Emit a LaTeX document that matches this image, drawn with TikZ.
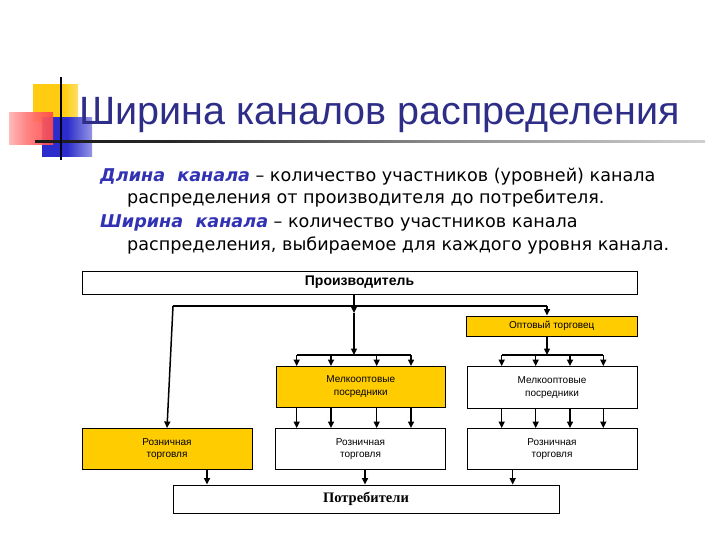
\documentclass[tikz,border=0pt]{standalone}
\usepackage{fontspec}
\setmainfont{Liberation Sans}
\newfontfamily\bodyf{DejaVu Sans}
\newfontfamily\serf{Liberation Serif}
\usetikzlibrary{arrows.meta}
\definecolor{ttl}{HTML}{2E2E88}
\definecolor{kw}{HTML}{3232B4}
\definecolor{ylw}{HTML}{FFCC00}
\definecolor{lgred}{HTML}{FF2020}
\definecolor{lgblue}{HTML}{2C2CCC}
\definecolor{lgyel}{HTML}{FFCC11}
\pgfdeclarehorizontalshading{fadeline}{100bp}{color(0bp)=(black);color(35bp)=(black!85);color(55bp)=(black!45);color(80bp)=(black!12);color(100bp)=(white)}
\pgfdeclarehorizontalshading{yfade}{100bp}{color(0bp)=(lgyel);color(60bp)=(lgyel);color(100bp)=(white)}
\pgfdeclarehorizontalshading{bfade}{100bp}{color(0bp)=(lgblue);color(50bp)=(lgblue);color(100bp)=(white)}
\pgfdeclarehorizontalshading{rfade}{100bp}{color(0bp)=(white);color(45bp)=(lgred!60);color(100bp)=(lgred)}
\tikzset{
  box/.style={draw=black, line width=0.9pt, fill=white, inner sep=0pt, align=center, font=\fontsize{10}{12.8}\selectfont},
  ybox/.style={box, fill=ylw},
  ln/.style={line width=1.5pt},
  arr/.style={line width=1.5pt, -{Triangle[length=6.5pt,width=6pt]}},
  txt/.style={anchor=base west, inner sep=0pt, font=\bodyf\fontsize{17.6}{20}\selectfont},
  kwd/.style={text=kw}
}
\begin{document}
\begin{tikzpicture}[x=1pt,y=-1pt]
\fill[white] (0,0) rectangle (720,540);
\useasboundingbox (0,0) rectangle (720,540);
% logo
\shade[shading=yfade] (33,85) rectangle (78,122);
\shade[shading=bfade] (42,118) rectangle (92,157);
\shade[shading=rfade, opacity=0.92] (9,113) rectangle (53,145);
\shade[shading=fadeline] (35,140.2) rectangle (705,142.3);
\draw[line width=2.2pt, color=black!90!blue] (61,77) -- (61,160);
% title
\node[anchor=base west, inner sep=0pt, text=ttl, font=\fontsize{39.5}{44}\selectfont] (title) at (79,125) {Ширина каналов распределения};
% body text
\node[txt] (l1) at (100,182) {{\bfseries\itshape\color{kw}Длина\ \ канала} – количество участников (уровней) канала};
\node[txt] (l2) at (127,204) {распределения от производителя до потребителя.};
\node[txt] (l3) at (100,228) {{\bfseries\itshape\color{kw}Ширина\ \ канала} – количество участников канала};
\node[txt] (l4) at (127,251) {распределения, выбираемое для каждого уровня канала.};
% boxes
\node[box, minimum width=555pt, minimum height=23pt, font=\bfseries\fontsize{14}{16}\selectfont] (prod) at (359.5,282.5) {Производитель};
\node[ybox, minimum width=170.5pt, minimum height=20pt] (opt) at (551.75,326) {Оптовый торговец};
\node[ybox, minimum width=169.5pt, minimum height=40.5pt] (m1) at (360.75,386.75) {Мелкооптовые\\посредники};
\node[box, minimum width=170pt, minimum height=41.5pt] (m2) at (552,387.25) {Мелкооптовые\\посредники};
\node[ybox, minimum width=170pt, minimum height=41pt] (r0) at (167,449) {Розничная\\торговля};
\node[box, minimum width=170pt, minimum height=41pt] (r1) at (360.5,449) {Розничная\\торговля};
\node[box, minimum width=170pt, minimum height=41pt] (r2) at (552,449) {Розничная\\торговля};
\node[box, minimum width=386pt, minimum height=28pt, font=\serf\bfseries\fontsize{14.5}{16}\selectfont] (cons) at (366,499) {Потребители};
% junctions
\coordinate (pj) at (354,306);
\coordinate (lj) at (173,306);
\coordinate (rj) at (547,306);
\coordinate (pa) at (354,313);
\coordinate (mbar) at (354,355);
\coordinate (rbar) at (547,355);
% connectors from producer
\draw[ln] (prod.south -| pj) -- (pj);
\draw[ln] (lj) -- (rj);
\draw[arr] (pj) -- (pa);
\draw[arr] (pa) -- (mbar);
\draw[arr] (rj) -- (opt.north -| rj);
\draw[arr] (lj) -- (r0.north);
% middle group
\draw[ln] (296.7,0 |- mbar) -- (411,0 |- mbar);
\foreach \x in {296.7,331,376.7,411}{
  \draw[arr] (\x,0 |- mbar) -- (\x,0 |- m1.north);
  \draw[arr] (\x,0 |- m1.south) -- (\x,0 |- r1.north);
}
% right group
\draw[arr] (opt.south -| rbar) -- (rbar);
\draw[ln] (501.7,0 |- rbar) -- (603.3,0 |- rbar);
\foreach \x in {501.7,535.7,570,603.3}{
  \draw[arr] (\x,0 |- rbar) -- (\x,0 |- m2.north);
  \draw[arr] (\x,0 |- m2.south) -- (\x,0 |- r2.north);
}
% to consumers
\draw[arr] (207,0 |- r0.south) -- (207,0 |- cons.north);
\draw[arr] (365,0 |- r1.south) -- (365,0 |- cons.north);
\draw[arr] (512.7,0 |- r2.south) -- (512.7,0 |- cons.north);
\end{tikzpicture}
\end{document}
